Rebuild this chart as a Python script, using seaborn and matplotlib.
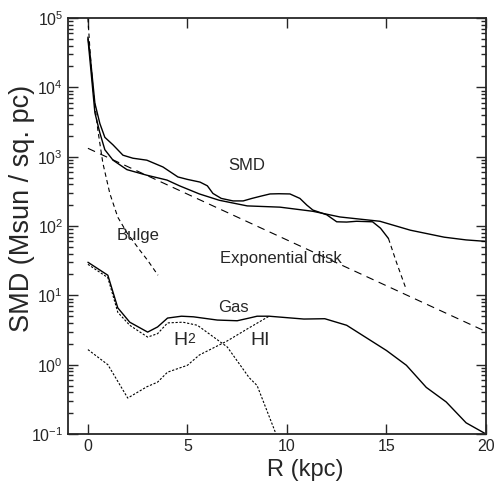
import numpy as np
import pandas as pd
import seaborn as sns
import matplotlib.pyplot as plt

# observed surface mass density (solid, dashed tail beyond 15 kpc)
r_obs = [0.0, 0.1, 0.35, 0.6, 0.85, 1.26, 1.76, 2.26, 2.96, 3.77, 4.52, 5.0, 5.63, 6.0, 6.28,
         6.7, 7.29, 7.8, 8.24, 8.7, 9.15, 9.6, 10.15, 10.65, 11.0, 11.3, 12.0, 12.5, 13.0,
         13.5, 14.3, 14.7, 15.1]
smd_obs = [53000, 31000, 5900, 3000, 1900, 1480, 1050, 950, 890, 710, 510, 470, 430, 380, 295,
           250, 230, 230, 250, 270, 290, 292, 290, 250, 200, 170, 145, 115, 114, 117, 115, 93, 66]
r_tail = [15.1, 15.5, 16.0]
smd_tail = [66, 30, 12]

# model SMD (bulge + disk)
r_mod = [0.0, 0.1, 0.35, 0.6, 0.85, 1.26, 1.96, 2.96, 3.97, 4.6, 5.6, 6.6, 8.0, 9.65, 11.3,
         12.66, 14.67, 16.2, 17.9, 19.0, 20.0]
smd_mod = [50000, 25000, 4300, 2200, 1260, 890, 650, 540, 460, 380, 290, 235, 195, 187, 163,
           135, 117, 87, 69, 63, 60]

# exponential disk
r_disk = [0.0, 20.0]
smd_disk = [1320, 3.0]

# bulge
r_bulge = [0.0, 0.1, 0.25, 0.5, 0.75, 1.1, 1.5, 1.96, 2.6, 3.0, 3.52]
smd_bulge = [100000, 35000, 10000, 2400, 810, 295, 134, 80, 45, 32, 19.5]

# gas
r_gas = [0.0, 1.0, 1.5, 2.1, 3.0, 3.5, 4.0, 4.7, 5.3, 6.5, 7.5, 8.1, 8.5, 9.1, 10.85, 11.9, 13.0,
         15.0, 16.0, 17.0, 18.0, 19.0, 20.0]
smd_gas = [30, 19.5, 6.6, 4.1, 2.95, 3.5, 4.7, 5.0, 4.9, 4.4, 4.3, 4.7, 5.0, 5.0, 4.55, 4.6, 3.7,
           1.6, 0.98, 0.47, 0.29, 0.145, 0.10]

# HI
r_hi = [0.0, 1.0, 2.0, 2.96, 3.5, 4.0, 5.0, 5.6, 7.0, 8.1, 9.1]
smd_hi = [1.65, 1.0, 0.33, 0.48, 0.56, 0.78, 0.98, 1.38, 2.2, 3.4, 5.0]

# H2
r_h2 = [0.0, 1.0, 1.5, 2.1, 3.0, 3.5, 4.0, 4.77, 5.5, 7.0, 8.1, 8.5, 9.45]
smd_h2 = [28, 18, 5.7, 3.7, 2.5, 2.8, 4.0, 4.1, 3.7, 1.8, 0.65, 0.50, 0.10]

sns.set_style("ticks")
plt.rcParams['font.family'] = ['Liberation Sans', 'DejaVu Sans']
plt.rcParams['mathtext.default'] = 'regular'

fig = plt.figure(figsize=(4.94, 4.84), dpi=100)
ax = fig.add_axes([0.1377, 0.1033, 0.8461, 0.8595])

lw = 1.0
sns.lineplot(x=r_obs, y=smd_obs, ax=ax, color="black", lw=lw, sort=False)
sns.lineplot(x=r_tail, y=smd_tail, ax=ax, color="black", lw=0.8, sort=False,
             linestyle=(0, (4, 3)))
sns.lineplot(x=r_mod, y=smd_mod, ax=ax, color="black", lw=lw, sort=False)
sns.lineplot(x=r_disk, y=smd_disk, ax=ax, color="black", lw=0.8, sort=False,
             linestyle=(0, (7, 5)))
sns.lineplot(x=r_bulge, y=smd_bulge, ax=ax, color="black", lw=0.8, sort=False,
             linestyle=(0, (4, 3)))
sns.lineplot(x=r_gas, y=smd_gas, ax=ax, color="black", lw=lw, sort=False)
sns.lineplot(x=r_hi, y=smd_hi, ax=ax, color="black", lw=0.8, sort=False,
             linestyle=(0, (2, 1.5)))
sns.lineplot(x=r_h2, y=smd_h2, ax=ax, color="black", lw=0.8, sort=False,
             linestyle=(0, (2, 1.5)))

ax.set_yscale("log")
ax.set_xlim(-1, 20)
ax.set_ylim(0.1, 1e5)
ax.set_xticks([0, 5, 10, 15, 20])
ax.tick_params(which="both", direction="in", top=True, right=True, width=1, labelsize=11.5)
ax.tick_params(which="major", length=7)
ax.tick_params(which="minor", length=3.5)
ax.tick_params(axis="x", which="minor", bottom=False, top=False)
for s in ax.spines.values():
    s.set_linewidth(1.3)

ax.set_xlabel("R (kpc)", fontsize=17)
ax.xaxis.set_label_coords(0.567, -0.06)
ax.set_ylabel("SMD (Msun / sq. pc)", fontsize=19.5)
ax.yaxis.set_label_coords(-0.079, 0.543)

ax.text(7.04, 650, "SMD", fontsize=12)
ax.text(1.46, 63, "Bulge", fontsize=12)
ax.text(6.63, 29, "Exponential disk", fontsize=12)
ax.text(6.53, 5.7, "Gas", fontsize=12)
ax.text(4.27, 1.9, "H", fontsize=14)
ax.text(4.97, 2.04, "2", fontsize=10)
ax.text(8.14, 1.9, "HI", fontsize=14)

fig.savefig("out.png", dpi=100)
